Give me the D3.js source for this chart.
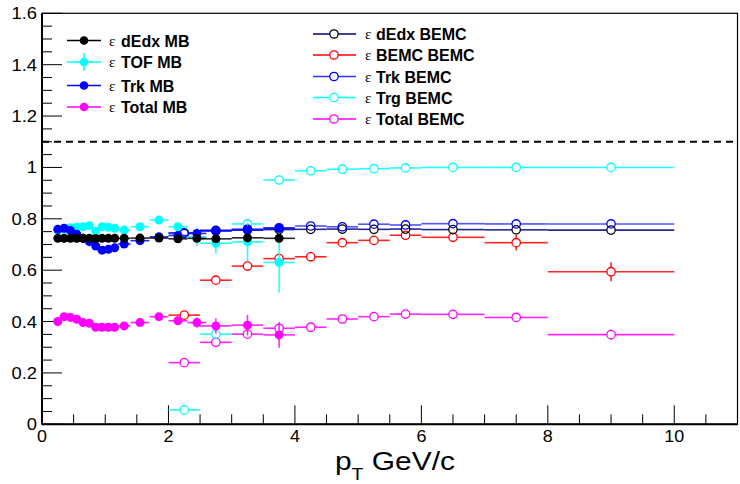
<!DOCTYPE html>
<html><head><meta charset="utf-8">
<script src="https://cdn.jsdelivr.net/npm/d3@7"></script>
<style>body{margin:0;background:#fff}svg{display:block}</style>
</head><body>
<svg id="c" width="740" height="484"></svg>
<script>
// ---- data ----
const mbPt    = [0.25,0.35,0.45,0.55,0.65,0.75,0.85,0.95,1.05,1.15,1.3,1.55,1.85,2.15,2.45,2.75,3.25,3.75];
const mbPtErr = [0.05,0.05,0.05,0.05,0.05,0.05,0.05,0.05,0.05,0.05,0.1,0.15,0.15,0.15,0.15,0.25,0.25,0.25];
const dEdxMB    = [0.724,0.724,0.724,0.724,0.724,0.724,0.723,0.724,0.724,0.724,0.724,0.725,0.725,0.722,0.724,0.722,0.726,0.724];
const dEdxMBErr = [0.012,0.012,0.012,0.012,0.012,0.012,0.012,0.012,0.012,0.012,0.012,0.012,0.012,0.012,0.012,0.012,0.012,0.012];
const tofMB     = [0.755,0.760,0.765,0.767,0.769,0.773,0.752,0.769,0.767,0.763,0.756,0.769,0.795,0.769,0.730,0.705,0.710,0.630];
const tofMBErr  = [0.008,0.008,0.008,0.008,0.008,0.008,0.008,0.008,0.008,0.008,0.01,0.01,0.012,0.015,0.036,0.04,0.075,0.117];
const trkMB     = [0.759,0.763,0.754,0.740,0.724,0.711,0.694,0.678,0.681,0.687,0.702,0.715,0.730,0.735,0.743,0.754,0.756,0.763];
const trkMBErr  = [0.005,0.005,0.005,0.005,0.005,0.005,0.005,0.005,0.005,0.005,0.005,0.005,0.005,0.005,0.006,0.006,0.008,0.01];
const totalMB   = [0.400,0.419,0.416,0.409,0.396,0.393,0.378,0.378,0.378,0.378,0.383,0.396,0.419,0.403,0.396,0.383,0.386,0.348];
const totalMBErr= [0.006,0.006,0.006,0.006,0.006,0.006,0.006,0.006,0.006,0.006,0.008,0.008,0.01,0.012,0.02,0.03,0.04,0.05];

const bemcPt    = [2.25,2.75,3.25,3.75,4.25,4.75,5.25,5.75,6.5,7.5,9];
const bemcPtErr = [0.25,0.25,0.25,0.25,0.25,0.25,0.25,0.25,0.5,0.5,1.0];
const dEdxBEMC  = [0.745,0.755,0.757,0.758,0.759,0.760,0.759,0.760,0.758,0.757,0.756];
const bemcBEMC  = [0.425,0.561,0.616,0.645,0.652,0.707,0.716,0.736,0.728,0.707,0.594];
const bemcBEMCErr=[0.01,0.01,0.01,0.012,0.01,0.01,0.01,0.01,0.015,0.03,0.037];
const trkBEMC   = [0.743,0.752,0.760,0.765,0.772,0.769,0.779,0.776,0.781,0.780,0.780];
const trgBEMC   = [0.056,0.351,0.780,0.951,0.987,0.993,0.995,0.998,1.000,1.000,1.000];
const totalBEMC = [0.240,0.319,0.351,0.374,0.378,0.410,0.419,0.429,0.428,0.416,0.349];
const totalBEMCErr=[0.01,0.01,0.01,0.01,0.01,0.01,0.01,0.01,0.01,0.012,0.02];

const xTicks = [0,2,4,6,8,10];
const yTicks = [0,0.2,0.4,0.6,0.8,1,1.2,1.4,1.6];
const yTickLabels = ["0","0.2","0.4","0.6","0.8","1","1.2","1.4","1.6"];
const refLine = 1.1;

const mbLegend = [
  {name:"dEdx MB", color:"#000000", line:"#000000", vbar:false},
  {name:"TOF MB", color:"#00ffff", line:"#00ffff", vbar:true},
  {name:"Trk MB", color:"#0000ff", line:"#0000ff", vbar:false},
  {name:"Total MB", color:"#ff00ff", line:"#ff00ff", vbar:false}
];
const bemcLegend = [
  {name:"dEdx BEMC", color:"#000000", line:"#000080"},
  {name:"BEMC BEMC", color:"#ff0000", line:"#ff0000"},
  {name:"Trk BEMC", color:"#0000ff", line:"#3333ff"},
  {name:"Trg BEMC", color:"#00ffff", line:"#00ffff"},
  {name:"Total BEMC", color:"#ff00ff", line:"#ff00ff"}
];

// ---- layout ----
const svg = d3.select("#c");
const x = d3.scaleLinear().domain([0,11]).range([42,737.5]);
const y = d3.scaleLinear().domain([0,1.6]).range([424.3,13.3]);
const FONT = "'Liberation Sans', Arial, Helvetica, sans-serif";

// frame
svg.append("rect").attr("x",x(0)).attr("y",y(1.6)).attr("width",x(11)-x(0)).attr("height",y(0)-y(1.6))
  .attr("fill","none").attr("stroke","#000").attr("stroke-width",1.2);
svg.append("line").attr("x1",x(0)).attr("x2",x(11)).attr("y1",y(0)).attr("y2",y(0)).attr("stroke","#000").attr("stroke-width",2);
svg.append("line").attr("x1",x(0)).attr("x2",x(0)).attr("y1",y(0)).attr("y2",y(1.6)).attr("stroke","#000").attr("stroke-width",2);

// ticks x
const xMinor = d3.range(0, 11.0001, 0.5);
svg.append("g").selectAll("line").data(xMinor).join("line")
  .attr("x1",d=>x(d)).attr("x2",d=>x(d)).attr("y1",y(0))
  .attr("y2",d=>y(0) - (Math.abs(d/2-Math.round(d/2))<1e-6 ? 19 : 10))
  .attr("stroke","#000").attr("stroke-width",1);
svg.append("g").selectAll("text").data(xTicks).join("text")
  .attr("transform",d=>`translate(${x(d)},442) scale(1.12,1)`).attr("text-anchor","middle")
  .attr("font-family",FONT).attr("font-size",16).text(d=>d);
// ticks y
const yMinor = d3.range(0, 1.6001, 0.05);
svg.append("g").selectAll("line").data(yMinor).join("line")
  .attr("y1",d=>y(d)).attr("y2",d=>y(d)).attr("x1",x(0))
  .attr("x2",d=>x(0) + (Math.abs(d/0.2-Math.round(d/0.2))<1e-6 ? 20 : 10))
  .attr("stroke","#000").attr("stroke-width",1);
svg.append("g").selectAll("text").data(yTicks).join("text")
  .attr("transform",d=>`translate(37,${y(d)+6}) scale(1.15,1)`).attr("text-anchor","end")
  .attr("font-family",FONT).attr("font-size",16).text((d,i)=>yTickLabels[i]);

// axis title
const t = svg.append("text").attr("font-family",FONT).attr("transform","translate(335,470) scale(1.15,1)");
t.append("tspan").attr("x",0).attr("font-size",26).text("p");
t.append("tspan").attr("font-size",17).attr("dy",10).text("T");
t.append("tspan").attr("font-size",26).attr("dy",-10).text(" GeV/c");

// dashed reference
svg.append("line").attr("x1",x(0)).attr("x2",x(11)).attr("y1",y(refLine)).attr("y2",y(refLine))
  .attr("stroke","#000").attr("stroke-width",2).attr("stroke-dasharray","7,5");

// ---- series drawing ----
function drawSeries(xs, xe, ys, ye, color, lineColor, filled, r) {
  const g = svg.append("g");
  const pts = xs.map((v,i)=>({x:v, xe:xe[i], y:ys[i], ye:ye ? ye[i] : 0}));
  const gap = filled ? 0 : r;
  const segs = [];
  pts.forEach(p=>{
    const cx=x(p.x), cy=y(p.y);
    segs.push([x(p.x-p.xe), cy, cx-gap, cy]);
    segs.push([cx+gap, cy, x(p.x+p.xe), cy]);
    if (p.ye>0) {
      const dy = y(p.y-p.ye)-cy;
      if (dy>gap) { segs.push([cx, cy+gap, cx, y(p.y-p.ye)]); segs.push([cx, cy-gap, cx, y(p.y+p.ye)]); }
    }
  });
  g.selectAll("line").data(segs).join("line")
    .attr("x1",d=>d[0]).attr("y1",d=>d[1]).attr("x2",d=>d[2]).attr("y2",d=>d[3])
    .attr("stroke",lineColor).attr("stroke-width",1.6).attr("stroke-opacity",0.85);
  g.selectAll("circle").data(pts).join("circle")
    .attr("cx",d=>x(d.x)).attr("cy",d=>y(d.y)).attr("r",r)
    .attr("fill",filled?color:"none").attr("stroke",color).attr("stroke-width",filled?0:1.3);
}

// BEMC (open)
drawSeries(bemcPt,bemcPtErr,totalBEMC,totalBEMCErr,"#ff00ff","#ff00ff",false,4.2);
drawSeries(bemcPt,bemcPtErr,trgBEMC,null,"#00ffff","#00ffff",false,4.2);
drawSeries(bemcPt,bemcPtErr,bemcBEMC,bemcBEMCErr,"#ff0000","#ff0000",false,4.2);
drawSeries(bemcPt,bemcPtErr,dEdxBEMC,null,"#000000","#000080",false,4.2);
drawSeries(bemcPt,bemcPtErr,trkBEMC,null,"#0000ff","#3333ff",false,4.2);
// MB (filled)
drawSeries(mbPt,mbPtErr,totalMB,totalMBErr,"#ff00ff","#ff00ff",true,4.5);
drawSeries(mbPt,mbPtErr,tofMB,tofMBErr,"#00ffff","#00ffff",true,4.5);
drawSeries(mbPt,mbPtErr,trkMB,trkMBErr,"#0000ff","#0000ff",true,4.5);
drawSeries(mbPt,mbPtErr,dEdxMB,dEdxMBErr,"#000000","#000000",true,4.5);

// ---- legends ----
const mbY = [40.5,62,85.5,107];
mbLegend.forEach((d,i)=>{
  const g = svg.append("g");
  const yy = mbY[i];
  g.append("line").attr("x1",67).attr("x2",101).attr("y1",yy).attr("y2",yy).attr("stroke",d.line).attr("stroke-width",1.5);
  if (d.vbar) g.append("line").attr("x1",84).attr("x2",84).attr("y1",yy-9).attr("y2",yy+9).attr("stroke",d.line).attr("stroke-width",1.5);
  g.append("circle").attr("cx",84).attr("cy",yy).attr("r",4.3).attr("fill",d.color);
  g.append("text").attr("x",109).attr("y",yy+5).attr("font-family","'Liberation Serif', serif").attr("font-size",15).text("ε");
  g.append("text").attr("x",121).attr("y",yy+6).attr("font-family",FONT).attr("font-weight","bold").attr("font-size",16).text(d.name);
});
const bY = [34,55,76.5,97.5,119];
bemcLegend.forEach((d,i)=>{
  const g = svg.append("g");
  const yy = bY[i];
  g.append("line").attr("x1",313).attr("x2",356).attr("y1",yy).attr("y2",yy).attr("stroke",d.line).attr("stroke-width",1.5);
  g.append("circle").attr("cx",334).attr("cy",yy).attr("r",4.2).attr("fill","#fff").attr("stroke",d.color).attr("stroke-width",1.3);
  g.append("text").attr("x",365).attr("y",yy+5).attr("font-family","'Liberation Serif', serif").attr("font-size",15).text("ε");
  g.append("text").attr("x",376).attr("y",yy+6).attr("font-family",FONT).attr("font-weight","bold").attr("font-size",16).text(d.name);
});
</script>
</body></html>
